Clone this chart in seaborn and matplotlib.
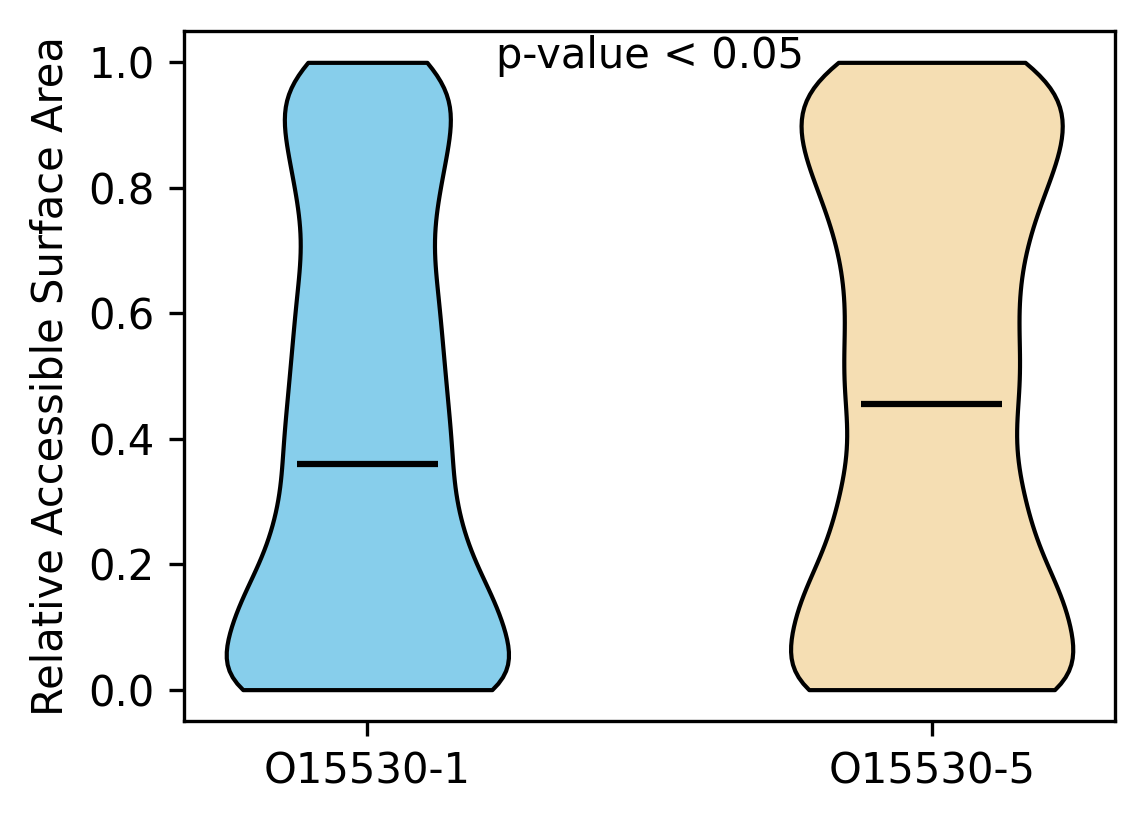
import numpy as np
import pandas as pd
import seaborn as sns
import matplotlib
matplotlib.use("Agg")
import matplotlib.pyplot as plt

# isoforms and colours
isoforms = ["O15530-1", "O15530-5"]
colors = ["skyblue", "wheat"]

# RSA values (binned) and how many residues sit at each value
rsa_levels_1 = [0.00, 0.05, 0.10, 0.15, 0.20, 0.25, 0.30, 0.36, 0.40, 0.45, 0.50,
                0.55, 0.60, 0.65, 0.70, 0.75, 0.80, 0.85, 0.90, 0.95, 1.00]
counts_1 = [41, 8, 25, 16, 14, 13, 13, 12, 10, 11, 11,
            10, 10, 10, 8, 9, 10, 11, 11, 14, 12]

rsa_levels_5 = [0.00, 0.05, 0.10, 0.15, 0.20, 0.25, 0.30, 0.35, 0.405, 0.455, 0.50,
                0.55, 0.60, 0.65, 0.70, 0.75, 0.80, 0.85, 0.90, 0.95, 1.00]
counts_5 = [41, 7, 25, 17, 15, 13, 13, 12, 11, 11, 12,
            12, 11, 12, 12, 14, 15, 18, 19, 18, 21]

p_text = "p-value < 0.05"

df = pd.DataFrame({
    "isoform": [isoforms[0]] * sum(counts_1) + [isoforms[1]] * sum(counts_5),
    "rsa": np.concatenate([np.repeat(rsa_levels_1, counts_1),
                           np.repeat(rsa_levels_5, counts_5)]),
})

fig, ax = plt.subplots(figsize=(1144 / 300, 824 / 300), dpi=300)
fig.subplots_adjust(left=0.1608, right=0.9747, top=0.9624, bottom=0.125)

sns.violinplot(data=df, x="isoform", y="rsa", hue="isoform", order=isoforms,
               hue_order=isoforms, palette=colors, saturation=1, cut=0,
               inner=None, width=0.5, density_norm="width", bw_method=0.2,
               linewidth=1, linecolor="black", legend=False, ax=ax)

# median bars
medians = df.groupby("isoform")["rsa"].median().reindex(isoforms)
pos = np.arange(len(isoforms))
ax.hlines(medians.values, pos - 0.125, pos + 0.125, color="black", lw=1.5, zorder=3)

ax.set_xlim(-0.325, 1.325)
ax.set_ylim(-0.05, 1.05)
ax.set_yticks([0.0, 0.2, 0.4, 0.6, 0.8, 1.0])
ax.set_xlabel("")
ax.set_ylabel("Relative Accessible Surface Area", fontsize=10)
ax.tick_params(labelsize=10)
ax.text(0.5, 0.977, p_text, ha="center", va="bottom", fontsize=10)

fig.savefig("out.png", dpi=300)
